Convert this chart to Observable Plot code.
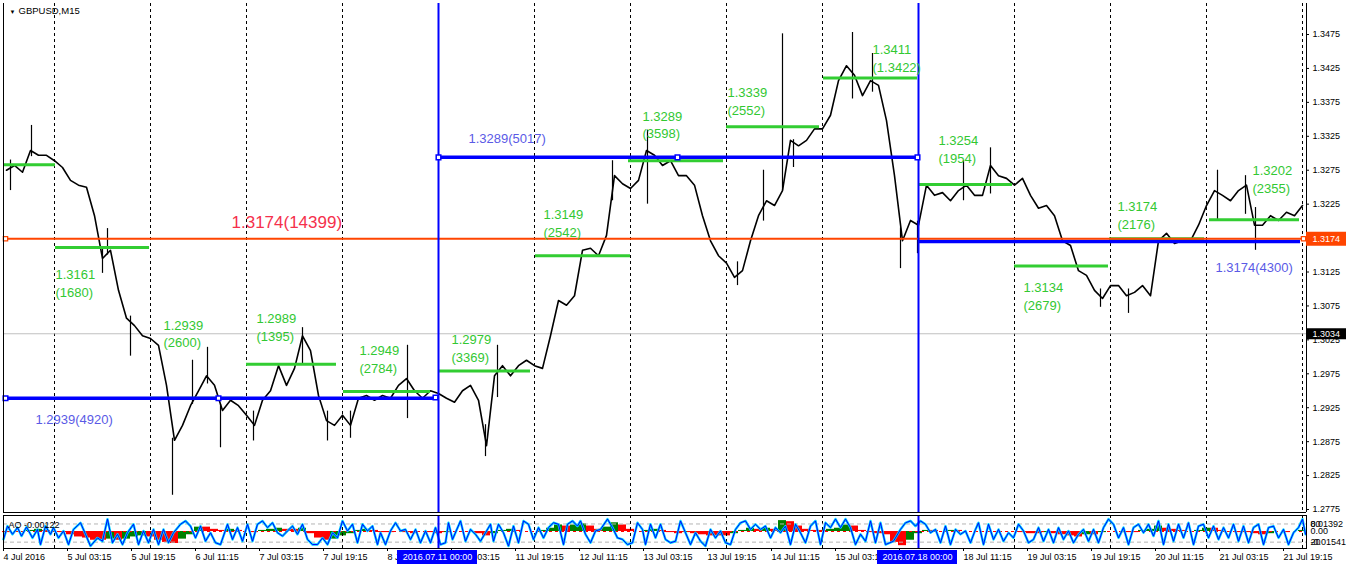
<!DOCTYPE html>
<html><head><meta charset="utf-8">
<script src="https://cdn.jsdelivr.net/npm/d3@7"></script>
<script src="https://cdn.jsdelivr.net/npm/@observablehq/plot@0.6"></script>
<style>
html,body{margin:0;padding:0;background:#fff;}
#chart{position:relative;width:1346px;height:569px;overflow:hidden;background:#fff;}
#chart svg{position:absolute;left:0;}
</style></head><body><div id="chart"></div>
<script>
// ---------- data (bars = M15 bars counted from 4 Jul 2016 00:00, trading time) ----------
const title = "GBPUSD,M15";
const dayBars = [96,192,288,384,480,576,672,768,864,960,1056,1152,1248,1344];
const weekSeparators = [480, 960];
const closeStartBar = 48, closeStepBars = 8;
const closes = [
1.3275,1.3282,1.3272,1.3304,1.3297,1.3297,1.3289,1.3279,
1.3260,1.3253,1.3250,1.3208,1.3145,1.3157,1.3098,1.3057,
1.3046,1.3031,1.3027,1.3017,1.2958,1.2877,1.2899,1.2928,
1.2950,1.2972,1.2958,1.2921,1.2936,1.2928,1.2914,1.2899,
1.2936,1.2950,1.2987,1.2958,1.2983,1.3031,1.3009,1.2943,
1.2906,1.2899,1.2914,1.2899,1.2939,1.2943,1.2936,1.2943,
1.2939,1.2958,1.2968,1.2950,1.2939,1.2950,1.2946,1.2939,
1.2933,1.2950,1.2958,1.2936,1.2869,1.2972,1.2987,1.2972,
1.2987,1.2995,1.2987,1.2983,1.3031,1.3083,1.3076,1.3090,
1.3157,1.3160,1.3149,1.3179,1.3267,1.3255,1.3248,1.3260,
1.3304,1.3297,1.3282,1.3289,1.3267,1.3267,1.3253,1.3208,
1.3171,1.3149,1.3138,1.3117,1.3127,1.3171,1.3208,1.3230,
1.3223,1.3245,1.3319,1.3311,1.3319,1.3336,1.3336,1.3356,
1.3407,1.3429,1.3415,1.3385,1.3407,1.3400,1.3348,1.3267,
1.3171,1.3201,1.3194,1.3253,1.3238,1.3242,1.3230,1.3245,
1.3253,1.3238,1.3238,1.3282,1.3267,1.3263,1.3253,1.3263,
1.3238,1.3219,1.3223,1.3208,1.3171,1.3164,1.3127,1.3120,
1.3098,1.3086,1.3105,1.3105,1.3090,1.3095,1.3105,1.3090,
1.3171,1.3182,1.3167,1.3171,1.3171,1.3194,1.3223,1.3245,
1.3238,1.3230,1.3245,1.3253,1.3194,1.3194,1.3208,1.3201,
1.3213,1.3208,1.3223];
// [bar, low, high] of the visible price spikes
const spikes = [[52,1.3245,1.3290],[73,1.3295,1.3341],[144,1.3123,1.3160],[149,1.3150,1.3189],
[172,1.3001,1.3060],[214,1.2796,1.2880],[234,1.2930,1.2995],[249,1.2960,1.3014],[262,1.2866,1.2930],
[295,1.2876,1.2920],[344,1.2990,1.3043],[369,1.2876,1.2920],[392,1.2880,1.2920],[449,1.2909,1.3017],
[527,1.2853,1.2900],[539,1.2940,1.3017],[654,1.3230,1.3289],[689,1.3225,1.3334],[779,1.3105,1.3140],
[805,1.3200,1.3275],[824,1.3245,1.3476],[835,1.3279,1.3320],[894,1.3380,1.3478],[914,1.3390,1.3447],
[942,1.3130,1.3190],[959,1.3152,1.3200],[1005,1.3230,1.3289],[1032,1.3240,1.3308],[1142,1.3073,1.3100],
[1170,1.3064,1.3100],[1259,1.3200,1.3275],[1287,1.3210,1.3267],[1297,1.3157,1.3220]];
// daily levels (green)
const dayLevelStart = [45,97,192,288,385,480,577,670,768,865,960,1056,1151,1251];
const dayLevelEnd   = [97,191,285,378,472,572,672,765,861,959,1054,1150,1246,1341];
const dayLevelPrice = [1.3283,1.3161,1.2939,1.2989,1.2949,1.2979,1.3149,1.3289,1.3339,1.3411,1.3254,1.3134,1.3174,1.3202];
const dayLevelCount = ["","(1680)","(2600)","(1395)","(2784)","(3369)","(2542)","(3598)","(2552)","(1.3422)","(1954)","(2679)","(2176)","(2355)"];
const dayLabelBar   = [0,97,205,298,401,493,585,684,769,914,980,1065,1159,1294];
const dayLabelPrice = [0,1.3133,1.3059,1.3068,1.3021,1.3037,1.3222,1.3367,1.3401,1.3465,1.3331,1.3114,1.3233,1.3286];
// weekly levels (blue)
const weekStart = [45,480,960];
const weekEnd = [480,960,1342];
const weekPrice = [1.2939,1.3294,1.3170];
const weekLabel = ["1.2939(4920)","1.3289(5017)","1.3174(4300)"];
const weekLabelBar = [77,510,1257];
const weekLabelPrice = [1.2914,1.3329,1.3138];
const weekAnchors = [[47,1.2939],[260,1.2939],[477,1.2940],[480,1.3294],[719,1.3294],[959,1.3294]];
// overall level (red)
const totalLevel = 1.3174;
const totalLabel = "1.3174(14399)";
const totalLabelBar = 273, totalLabelPrice = 1.3207;
const totalAnchors = [[47,1.3174],[1345,1.3174]];
const bidPrice = 1.3034;
const priceTicks = [1.2775,1.2825,1.2875,1.2925,1.2975,1.3025,1.3075,1.3125,1.3225,1.3275,1.3325,1.3375,1.3425,1.3475];
// time axis (the 15 Jul 19:15 label is hidden under the date box in the reference)
const timeTickBars = [45,109,173,237,301,365,429,493,557,621,685,749,813,877,941,1005,1069,1133,1197,1261,1325];
const timeTickLabels = ["4 Jul 2016","5 Jul 03:15","5 Jul 19:15","6 Jul 11:15","7 Jul 03:15","7 Jul 19:15","8 Jul 11:15",
"11 Jul 03:15","11 Jul 19:15","12 Jul 11:15","13 Jul 03:15","13 Jul 19:15","14 Jul 11:15","15 Jul 03:15","",
"18 Jul 11:15","19 Jul 03:15","19 Jul 19:15","20 Jul 11:15","21 Jul 03:15","21 Jul 19:15"];
const weekStartLabels = ["2016.07.11 00:00","2016.07.18 00:00"];
// AO oscillator (same bars as closes)
const aoValues = [
-0.001,0,0,0.001,0.002,0.001,0,-0.001,
-0.003,-0.005,-0.006,-0.008,-0.008,-0.007,-0.008,-0.007,
-0.005,-0.004,-0.005,-0.008,-0.010,-0.011,-0.007,-0.003,
0.004,0.004,0.002,0.001,0.002,0.001,0,-0.001,
0.001,0.002,0.003,0.002,0.002,0.003,-0.002,-0.006,
-0.008,-0.007,-0.004,-0.002,0.001,0.002,0.001,-0.001,
-0.001,0,-0.001,-0.002,0,-0.001,-0.002,-0.001,
0,0,0,-0.002,-0.004,-0.002,0.001,0.002,
0.001,0,0,0.001,0.003,0.006,0.005,0.006,
0.007,0.005,0.002,0.004,0.008,0.006,0.002,0,
0.001,0.002,0.001,-0.001,-0.002,-0.001,-0.002,-0.003,
-0.004,-0.004,-0.004,-0.002,0.001,0.003,0.002,0.003,
0.002,0.010,0.009,0.005,0.002,0.001,0.001,0.002,
0.003,0.006,0.005,0.001,-0.001,-0.002,-0.003,-0.010,
-0.013,-0.008,-0.002,0.001,0.001,0,0.001,0.001,
0,0,0,0,0,0,0,-0.001,
-0.002,-0.002,-0.001,-0.002,-0.003,-0.004,-0.005,-0.003,
-0.003,-0.001,0,0,-0.001,-0.001,0.001,0.002,
0.005,0.003,0.002,0.001,0,0.001,0.003,0.003,
0.001,0,-0.001,-0.001,-0.002,-0.003,-0.002,0,
-0.001,0,0.001];
const aoCurrent = "AO -0.00122";
const aoAxisLabels = ["0.01392","0.00","-0.01541"];
// stochastic-type oscillator turning points [bar, value]
const stochPoints = [[45,29],[49,73],[54,46],[59,68],[63,40],[68,70],[74,34],[79,62],[82,12],[87,73],[92,46],[95,68],
[100,34],[105,57],[110,12],[115,62],[122,84],[127,46],[132,7],[139,34],[144,23],[149,96],[154,18],[159,46],[164,12],
[169,51],[175,79],[180,12],[185,57],[190,18],[195,62],[200,12],[205,62],[210,18],[215,51],[222,79],[227,90],[232,73],
[237,34],[242,73],[247,23],[252,51],[257,18],[262,12],[269,79],[274,29],[279,68],[284,23],[289,79],[294,23],[299,79],
[304,90],[309,68],[314,84],[319,51],[324,40],[329,57],[334,73],[339,46],[344,79],[349,29],[354,12],[359,12],[364,34],
[369,12],[374,51],[379,34],[384,90],[389,57],[394,79],[399,18],[404,79],[409,57],[414,73],[419,12],[422,51],[427,12],
[432,57],[437,84],[442,57],[447,62],[452,29],[457,62],[462,18],[467,57],[472,18],[477,68],[482,12],[487,18],[490,84],
[494,29],[502,90],[507,23],[512,62],[517,46],[522,23],[527,51],[532,79],[535,23],[540,79],[545,51],[550,7],[555,73],
[560,18],[565,90],[570,79],[575,29],[580,68],[585,34],[590,68],[595,84],[600,79],[605,12],[609,79],[614,90],[619,73],
[622,90],[627,46],[632,18],[637,57],[642,62],[649,96],[654,68],[659,34],[664,29],[669,12],[674,18],[679,84],[684,62],
[687,12],[692,79],[697,34],[702,79],[707,29],[712,18],[717,23],[722,90],[727,51],[732,12],[737,51],[742,23],[747,7],
[752,62],[757,34],[762,57],[767,18],[772,12],[777,62],[782,84],[787,90],[792,62],[797,79],[802,62],[807,73],[812,34],
[817,68],[822,51],[827,73],[832,12],[837,79],[842,51],[847,18],[852,73],[857,90],[862,12],[867,84],[872,68],[877,96],
[882,68],[887,96],[892,68],[897,12],[902,46],[907,23],[912,90],[917,18],[922,84],[927,12],[935,23],[942,62],[947,84],
[952,90],[957,73],[962,90],[967,79],[972,51],[977,62],[982,18],[987,73],[992,12],[997,62],[1002,46],[1007,57],[1012,18],
[1017,62],[1020,84],[1025,12],[1030,79],[1035,29],[1040,62],[1045,23],[1050,51],[1055,34],[1060,79],[1065,57],[1070,18],
[1075,29],[1080,68],[1085,23],[1090,62],[1095,18],[1100,68],[1105,29],[1110,57],[1115,18],[1120,46],[1125,62],[1130,23],
[1135,62],[1140,18],[1145,68],[1150,96],[1155,79],[1160,34],[1165,68],[1170,12],[1175,68],[1180,79],[1185,51],[1190,79],
[1195,40],[1200,90],[1205,12],[1210,79],[1215,23],[1220,79],[1225,34],[1230,84],[1235,12],[1240,73],[1245,79],[1250,34],
[1255,73],[1260,29],[1265,68],[1270,34],[1275,79],[1280,23],[1285,73],[1290,18],[1295,68],[1300,79],[1305,12],[1310,68],
[1315,73],[1320,34],[1325,62],[1330,12],[1335,51],[1340,68],[1344,96],[1347,46]];
const stochLevels = [80, 20];
const stochLevelLabels = ["80", "20"];

// ---------- drawing ----------
const fontFamily = '"Liberation Sans", Arial, sans-serif';
const xDomain = [45, 1348];
const yDomain = [1.27706, 1.35207];
const base = {width: 1346, marginLeft: 3, marginRight: 40};
const xs = {domain: xDomain, axis: null};

const closeData = closes.map((p, i) => ({bar: closeStartBar + i * closeStepBars, price: p}));
const dayLevels = dayLevelPrice.map((p, i) => ({x1: dayLevelStart[i], x2: dayLevelEnd[i], price: p,
  count: dayLevelCount[i], lx: dayLabelBar[i], ly: dayLabelPrice[i]}));
const weeks = weekPrice.map((p, i) => ({x1: weekStart[i], x2: weekEnd[i], price: p,
  label: weekLabel[i], lx: weekLabelBar[i], ly: weekLabelPrice[i]}));

const main = Plot.plot({
  ...base, height: 513, marginTop: 3, marginBottom: 1,
  x: xs, y: {domain: yDomain, axis: null},
  style: {fontFamily, fontSize: "9px", background: "transparent", overflow: "visible"},
  marks: [
    Plot.ruleX(dayBars, {stroke: "#000", strokeDasharray: "3,3"}),
    Plot.ruleY([bidPrice], {stroke: "#c0c0c0"}),
    Plot.ruleX(spikes, {x: d => d[0], y1: d => d[1], y2: d => d[2], stroke: "#000", strokeWidth: 1.2}),
    Plot.line(closeData, {x: "bar", y: "price", stroke: "#000", strokeWidth: 1.6}),
    Plot.ruleY(dayLevels, {y: "price", x1: "x1", x2: "x2", stroke: "#32cd32", strokeWidth: 3}),
    Plot.ruleY(weeks, {y: "price", x1: "x1", x2: "x2", stroke: "#0000ff", strokeWidth: 3.5}),
    Plot.ruleY([totalLevel], {stroke: "#ff4500", strokeWidth: 2}),
    Plot.ruleX(weekSeparators, {stroke: "#0000ff", strokeWidth: 2}),
    Plot.dot(weekAnchors, {x: d => d[0], y: d => d[1], symbol: "square", r: 2.6, stroke: "#0000ff", fill: "#fff", strokeWidth: 1.5}),
    Plot.dot(totalAnchors, {x: d => d[0], y: d => d[1], symbol: "square", r: 2.4, stroke: "#ff4500", fill: "#fff", strokeWidth: 1.3}),
    Plot.text(dayLevels.filter(d => d.count), {x: "lx", y: "ly", text: d => d.price.toFixed(4) + "\n" + d.count,
      textAnchor: "start", lineAnchor: "top", lineHeight: 1.38, fontSize: 13, fill: "#32c832"}),
    Plot.text(weeks, {x: "lx", y: "ly", text: "label", textAnchor: "start", lineAnchor: "top", fontSize: 13, fill: "#5a5ae6"}),
    Plot.text([totalLabel], {x: totalLabelBar, y: totalLabelPrice, textAnchor: "start", lineAnchor: "top", fontSize: 17, fill: "#f5304c"}),
    // frame (left, right, bottom)
    Plot.ruleX(xDomain, {stroke: "#000"}),
    Plot.ruleY([yDomain[0]], {stroke: "#000"}),
    // price axis on the right
    Plot.ruleY(priceTicks, {x1: xDomain[1], x2: xDomain[1] + 3, stroke: "#000"}),
    Plot.text(priceTicks, {y: d => d, text: d => d.toFixed(4), frameAnchor: "right", dx: 6, textAnchor: "start", fill: "#000"}),
    Plot.ruleY([totalLevel], {x1: xDomain[1], x2: xDomain[1] + 40, stroke: "#ff4500", strokeWidth: 14}),
    Plot.text([totalLevel], {y: d => d, text: d => d.toFixed(4), frameAnchor: "right", dx: 6, textAnchor: "start", fill: "#fff"}),
    Plot.ruleY([bidPrice], {x1: xDomain[1], x2: xDomain[1] + 40, stroke: "#000", strokeWidth: 11}),
    Plot.text([bidPrice], {y: d => d, text: d => d.toFixed(4), frameAnchor: "right", dx: 6, textAnchor: "start", fill: "#fff"}),
    // title
    Plot.text(["\u25BC"], {frameAnchor: "top-left", dx: 6, dy: 6, lineAnchor: "top", textAnchor: "start", fontSize: 6, fill: "#000"}),
    Plot.text([title], {frameAnchor: "top-left", dx: 15, dy: 4, lineAnchor: "top", textAnchor: "start", fontSize: 9.5, fill: "#000"})
  ]
});

// AO histogram panel
const aoData = aoValues.map((v, i) => ({x1: closeStartBar + i * closeStepBars - closeStepBars / 2,
  x2: closeStartBar + i * closeStepBars + closeStepBars / 2, ao: v,
  up: i === 0 ? v >= 0 : v > aoValues[i - 1]}));
const ao = Plot.plot({
  ...base, height: 38, marginTop: 2, marginBottom: 3,
  x: xs, y: {domain: [-0.0156, 0.0147], axis: null},
  style: {fontFamily, fontSize: "9px", background: "transparent", overflow: "visible"},
  marks: [
    Plot.rectY(aoData, {x1: "x1", x2: "x2", y: "ao", fill: d => d.up ? "#008000" : "#ff0000"}),
    Plot.ruleY([0], {stroke: "#ff0000", strokeDasharray: "3,3"}),
    Plot.text([aoAxisLabels[1]], {y: 0, frameAnchor: "right", dx: 4, textAnchor: "start", fill: "#000"})
  ]
});

// oscillator panel with frame, time ticks
const osc = Plot.plot({
  ...base, height: 38, marginTop: 2, marginBottom: 3,
  x: {domain: xDomain, axis: "bottom", ticks: timeTickBars, tickFormat: () => "", tickSize: 3, label: null},
  y: {domain: [-1, 108], axis: null},
  style: {fontFamily, fontSize: "9px", background: "transparent", overflow: "visible", color: "#000"},
  marks: [
    Plot.ruleX(dayBars, {stroke: "#000", strokeDasharray: "3,3"}),
    Plot.ruleY(stochLevels, {stroke: "#b4b4b4", strokeDasharray: "4,3"}),
    Plot.line(stochPoints, {x: d => d[0], y: d => d[1], stroke: "#00d8ff", strokeWidth: 2.4}),
    Plot.line(stochPoints, {x: d => d[0], y: d => d[1], stroke: "#0000ff", strokeWidth: 1}),
    Plot.ruleX(weekSeparators, {stroke: "#0000ff", strokeWidth: 2}),
    Plot.frame({stroke: "#000"}),
    Plot.text([aoCurrent], {frameAnchor: "top-left", dx: 5, dy: 6, lineAnchor: "top", textAnchor: "start", fill: "#000"}),
    Plot.text(stochLevels, {y: d => d, text: (d, i) => stochLevelLabels[i], frameAnchor: "right", dx: 4, textAnchor: "start", fill: "#000"}),
    Plot.text(stochLevels, {y: d => d, text: (d, i) => i === 0 ? aoAxisLabels[0] : aoAxisLabels[2], frameAnchor: "right", dx: 4, textAnchor: "start", fill: "#000"})
  ]
});

// time labels strip
const ticks = timeTickBars.map((b, i) => ({bar: b, label: timeTickLabels[i]})).filter(d => d.label);
const boxes = weekSeparators.map((b, i) => ({bar: b, label: weekStartLabels[i]}));
const strip = Plot.plot({
  ...base, height: 21, marginTop: 2, marginBottom: 5,
  x: xs,
  style: {fontFamily, fontSize: "9px", background: "transparent", overflow: "visible"},
  marks: [
    Plot.text(ticks, {x: "bar", text: "label", frameAnchor: "middle", textAnchor: "start", fill: "#000"}),
    Plot.rect(boxes, {x1: d => d.bar - 41, x2: d => d.bar + 39, fill: "#0000ff"}),
    Plot.text(boxes, {x: d => d.bar - 1, text: "label", frameAnchor: "middle", textAnchor: "middle", fill: "#fff"})
  ]
});

const root = document.getElementById("chart");
[[main, 0], [ao, 513], [osc, 513], [strip, 548]].forEach(([svg, top]) => {
  svg.style.top = top + "px";
  root.appendChild(svg);
});
</script></body></html>
